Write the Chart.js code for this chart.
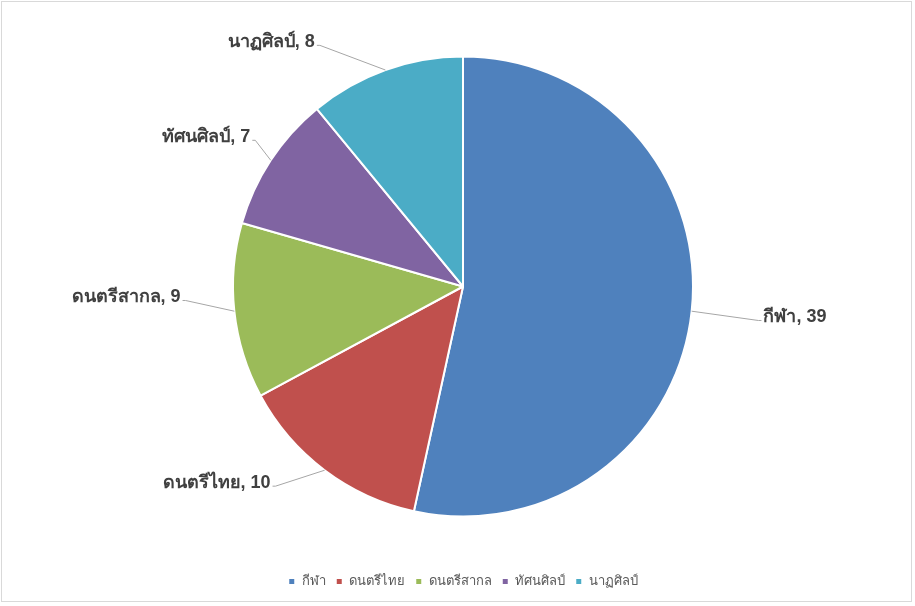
<!DOCTYPE html>
<html>
<head>
<meta charset="utf-8">
<script src="https://cdn.jsdelivr.net/npm/chart.js@4.4.0/dist/chart.umd.min.js"></script>
<style>
  html, body { margin: 0; padding: 0; background: #ffffff; }
  #wrap { position: relative; width: 915px; height: 606px; }
  #frame { position: absolute; left: 1px; top: 1px; width: 911px; height: 601px; border: 1px solid #d9d9d9; box-sizing: border-box; pointer-events: none; }
</style>
</head>
<body>
<div id="wrap">
  <canvas id="c" width="915" height="606"></canvas>
  <div id="frame"></div>
</div>
<script>
const categories = ['กีฬา', 'ดนตรีไทย', 'ดนตรีสากล', 'ทัศนศิลป์', 'นาฏศิลป์'];
const values = [39, 10, 9, 7, 8];
const colors = ['#4F81BD', '#C0504D', '#9BBB59', '#8064A2', '#4BACC6'];

const labelNudges = [[27, 5], [-25, -16], [-9, -15], [18, 2], [-52, 13]];

const outsideLabels = {
  id: 'outsideLabels',
  afterDatasetsDraw(chart) {
    const ctx = chart.ctx;
    const meta = chart.getDatasetMeta(0);
    const ds = chart.data.datasets[0];
    ctx.save();
    meta.data.forEach((arc, i) => {
      const p = arc.getProps(['x', 'y', 'startAngle', 'endAngle', 'outerRadius'], true);
      const mid = (p.startAngle + p.endAngle) / 2;
      const cos = Math.cos(mid), sin = Math.sin(mid);
      const ex = p.x + p.outerRadius * cos;
      const ey = p.y + p.outerRadius * sin;
      const r2 = p.outerRadius + 40;
      const nd = labelNudges[i];
      const ax = p.x + r2 * cos + nd[0];
      const ay = p.y + r2 * sin + nd[1];
      const right = cos >= 0;
      const hx = right ? ax + 3 : ax - 3;
      ctx.strokeStyle = '#a6a6a6';
      ctx.lineWidth = 1;
      ctx.beginPath();
      ctx.moveTo(ex, ey);
      ctx.lineTo(ax, ay);
      ctx.lineTo(hx, ay);
      ctx.stroke();
      ctx.fillStyle = '#404040';
      ctx.font = 'bold 18px Tahoma, "Liberation Sans", "Noto Sans", sans-serif';
      ctx.textBaseline = 'middle';
      ctx.textAlign = right ? 'left' : 'right';
      const tx = right ? hx + 2 : hx - 2;
      ctx.fillText(chart.data.labels[i] + ', ' + ds.data[i], tx, ay - 3);
    });
    ctx.restore();
  }
};

new Chart(document.getElementById('c'), {
  type: 'pie',
  data: {
    labels: categories,
    datasets: [{
      data: values,
      backgroundColor: colors,
      borderColor: '#ffffff',
      borderWidth: 2
    }]
  },
  options: {
    responsive: false,
    animation: false,
    radius: 230,
    layout: { padding: { top: 8, bottom: 8, left: 11, right: 0 } },
    plugins: {
      legend: {
        position: 'bottom',
        labels: {
          boxWidth: 7,
          boxHeight: 7,
          padding: 10,
          color: '#595959',
          font: { size: 13, family: 'Tahoma, "Liberation Sans", sans-serif' }
        }
      },
      tooltip: { enabled: false }
    }
  },
  plugins: [outsideLabels]
});
</script>
</body>
</html>
